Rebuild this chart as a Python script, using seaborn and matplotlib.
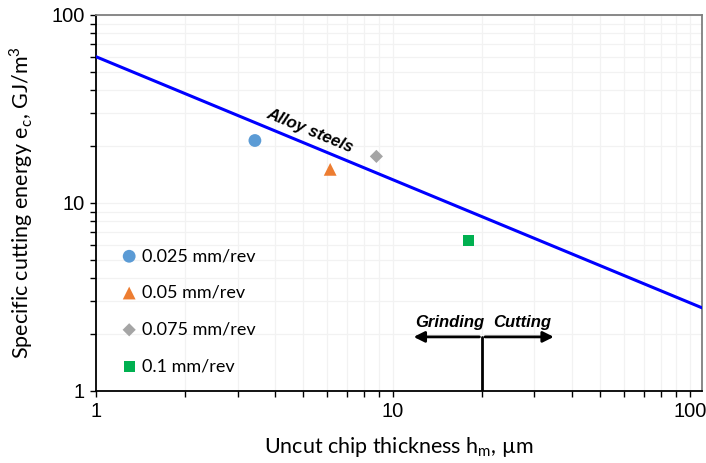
import numpy as np
import pandas as pd
import matplotlib
matplotlib.use("Agg")
import matplotlib.pyplot as plt
import seaborn as sns
from matplotlib.ticker import LogLocator, NullFormatter

# Data
labels = ["0.025 mm/rev", "0.05 mm/rev", "0.075 mm/rev", "0.1 mm/rev"]
h_vals = [3.43, 6.15, 8.8, 18.0]
e_vals = [21.5, 15.1, 17.7, 6.3]
colors = ["#5B9BD5", "#ED7D31", "#A5A5A5", "#00B050"]
markers = ["o", "^", "D", "s"]
msizes = [85, 85, 45, 65]

line_h = [1, 110]
line_e = [60, 2.77]

boundary_h = 20
arrow_y = 1.94
arrow_left = 11.5
arrow_right = 35.6

sns.set_style("white")
plt.rcParams['font.family'] = ['Liberation Sans', 'DejaVu Sans']
plt.rcParams['text.color'] = 'black'
plt.rcParams['axes.labelcolor'] = 'black'
plt.rcParams['xtick.color'] = 'black'
plt.rcParams['ytick.color'] = 'black'

fig = plt.figure(figsize=(7.06, 4.63), dpi=100)
ax = fig.add_axes([96/706, 1-391/463, 606/706, (391-15)/463])

df = pd.DataFrame({"h": line_h, "e": line_e})
sns.lineplot(data=df, x="h", y="e", ax=ax, color="#0000FF", lw=2.2, zorder=3)

pts = pd.DataFrame({"h": h_vals, "e": e_vals, "lab": labels})
for i in range(len(labels)):
    sub = pts.iloc[[i]]
    sns.scatterplot(data=sub, x="h", y="e", ax=ax, color=colors[i], marker=markers[i],
                    s=msizes[i], edgecolor="none", label=labels[i], zorder=4)

ax.set_xscale("log")
ax.set_yscale("log")
ax.set_xlim(1, 110)
ax.set_ylim(1, 100)

ax.set_xticks([1, 10, 100])
ax.set_xticklabels(["1", "10", "100"])
ax.set_yticks([1, 10, 100])
ax.set_yticklabels(["1", "10", "100"])
ax.xaxis.set_minor_locator(LogLocator(base=10, subs=np.arange(2, 10)))
ax.yaxis.set_minor_locator(LogLocator(base=10, subs=np.arange(2, 10)))
ax.xaxis.set_minor_formatter(NullFormatter())
ax.yaxis.set_minor_formatter(NullFormatter())
ax.tick_params(axis="both", which="both", direction="out", length=4, width=1, color="black",
               labelcolor="black", labelsize=14.5, left=True, bottom=True)
ax.tick_params(axis="both", which="major", pad=4)

ax.grid(True, which="both", color="#F2F2F2", lw=0.9)
ax.set_axisbelow(True)

for s in ["left", "bottom"]:
    ax.spines[s].set_color("black")
    ax.spines[s].set_linewidth(1.3)
for s in ["top", "right"]:
    ax.spines[s].set_color("#7F7F7F")
    ax.spines[s].set_linewidth(1.3)

ax.set_xlabel("Uncut chip thickness h$_{\\mathregular{m}}$, \u00b5m", fontsize=15.5, family="Lato", labelpad=10)
ax.set_ylabel("Specific cutting energy e$_{\\mathregular{c}}$, GJ/m$^{\\mathregular{3}}$", fontsize=15.5, family="Lato", labelpad=12)

ax.text(5.25, 24.1, "Alloy steels", rotation=-22.5, fontsize=12, fontweight="bold", style="italic",
        ha="center", va="center", rotation_mode="anchor", color="black")

# Grinding / Cutting boundary
ax.plot([boundary_h, boundary_h], [1, arrow_y], color="black", lw=2)
ax.annotate("", xy=(arrow_left, arrow_y), xytext=(boundary_h, arrow_y),
            arrowprops=dict(arrowstyle="-|>", color="black", lw=2, mutation_scale=16))
ax.annotate("", xy=(arrow_right, arrow_y), xytext=(boundary_h, arrow_y),
            arrowprops=dict(arrowstyle="-|>", color="black", lw=2, mutation_scale=16))
ax.text(15.6, 2.31, "Grinding", fontsize=12, fontweight="bold", style="italic", ha="center", va="center", color="black")
ax.text(27.2, 2.31, "Cutting", fontsize=12, fontweight="bold", style="italic", ha="center", va="center", color="black")

leg = ax.legend(loc="lower left", bbox_to_anchor=(0.019, 0.006), frameon=False, prop={"family": "Lato", "size": 13},
                labelspacing=1.15, handletextpad=0.3, handlelength=0.8, borderpad=0.3)
for t in leg.get_texts():
    t.set_color("black")

fig.savefig("out.png", dpi=100)
